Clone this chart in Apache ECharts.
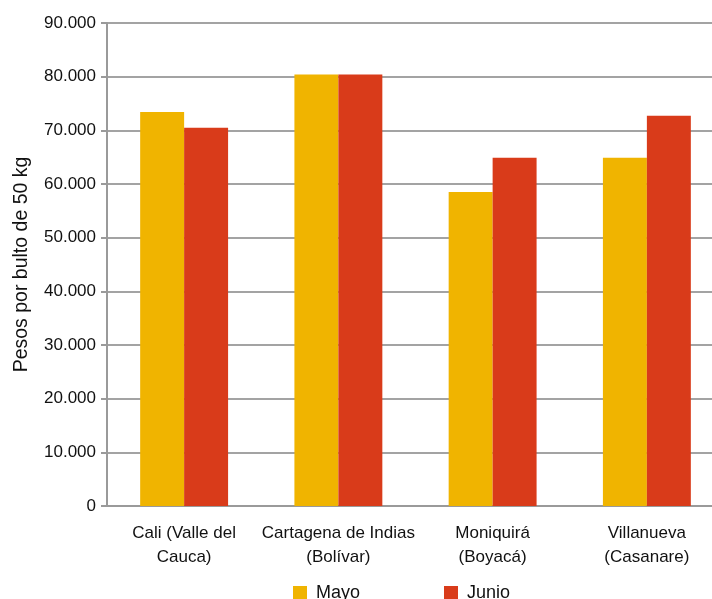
<!DOCTYPE html>
<html>
<head>
<meta charset="utf-8">
<script src="https://cdn.jsdelivr.net/npm/echarts@6/dist/echarts.min.js"></script>
<style>
  html, body { margin: 0; padding: 0; background: #fff; }
  #chart { width: 712px; height: 599px; }
</style>
</head>
<body>
<div id="chart"></div>
<script>
var categories = ['Cali (Valle del\nCauca)', 'Cartagena de Indias\n(Bolívar)', 'Moniquirá\n(Boyacá)', 'Villanueva\n(Casanare)'];
var mayo = [73400, 80400, 58500, 64900];
var junio = [70500, 80400, 64900, 72700];
var yTicks = [0, 90000, 10000]; // min, max, interval

var chart = echarts.init(document.getElementById('chart'));
var font = '"Liberation Sans", Arial, sans-serif';

function fmt(v) {
    if (v === 0) return '0';
    return String(v).replace(/\B(?=(\d{3})+(?!\d))/g, '.');
}

chart.setOption({
    animation: false,
    textStyle: { fontFamily: font },
    grid: { left: 107, right: -12, top: 23, bottom: 93, containLabel: false, outerBoundsMode: 'none' },
    legend: {
        top: 584,
        left: 293,
        padding: 0,
        itemWidth: 14,
        itemHeight: 14,
        itemGap: 84,
        icon: 'rect',
        textStyle: { fontSize: 18, color: '#111', fontFamily: font, padding: [2, 0, 0, 4] },
        data: ['Mayo', 'Junio']
    },
    xAxis: {
        type: 'category',
        data: categories,
        axisLine: { lineStyle: { color: '#9a9a9a', width: 2 } },
        axisTick: { show: false },
        axisLabel: { fontSize: 17, color: '#111', lineHeight: 24, margin: 15, interval: 0 }
    },
    yAxis: {
        type: 'value',
        min: yTicks[0],
        max: yTicks[1],
        interval: yTicks[2],
        name: 'Pesos por bulto de 50 kg',
        nameLocation: 'middle',
        nameGap: 75,
        nameRotate: 90,
        nameTextStyle: { fontSize: 19.5, color: '#111' },
        axisLine: { show: true, lineStyle: { color: '#9a9a9a', width: 2 } },
        axisTick: { show: true, length: 6, lineStyle: { color: '#9a9a9a', width: 2 } },
        axisLabel: { fontSize: 17, color: '#111', margin: 11, formatter: fmt },
        splitLine: { lineStyle: { color: '#a3a3a3', width: 2 } }
    },
    series: [
        {
            name: 'Mayo',
            type: 'bar',
            data: mayo,
            barGap: '0%',
            barCategoryGap: '43%',
            itemStyle: { color: '#f0b400' }
        },
        {
            name: 'Junio',
            type: 'bar',
            data: junio,
            itemStyle: { color: '#d93b1a' }
        }
    ]
});
</script>
</body>
</html>
